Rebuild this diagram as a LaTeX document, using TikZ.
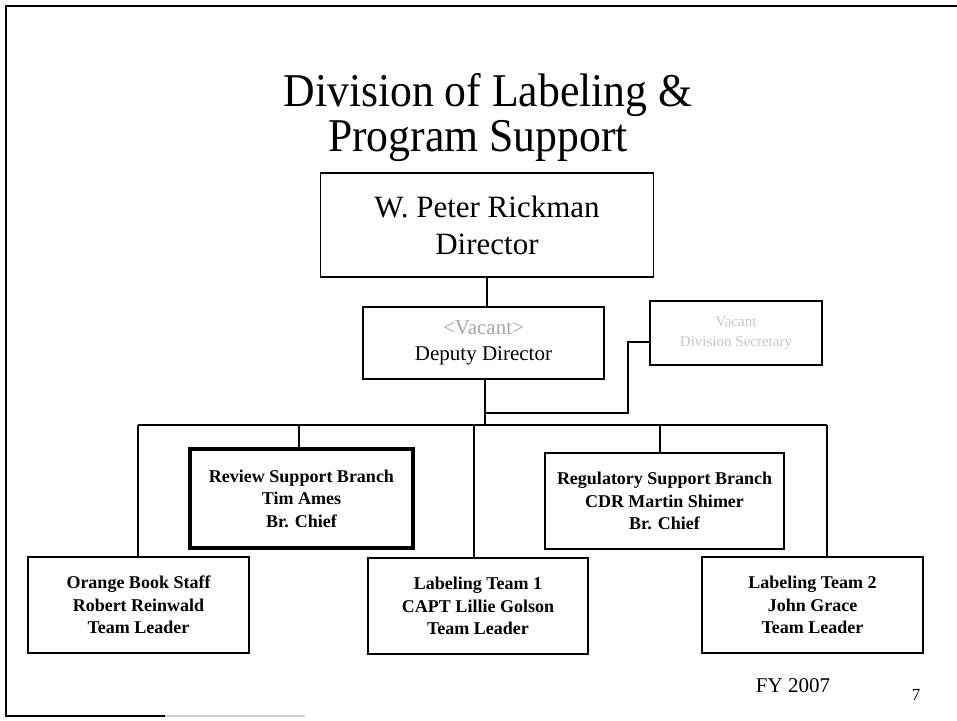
\documentclass[tikz,border=0pt]{standalone}
\usepackage{fontspec}
\setmainfont{Liberation Serif}
\newfontfamily\headingfam[FakeStretch=0.93]{Liberation Serif}
\begin{document}
\begin{tikzpicture}[x=1pt,y=-1pt,
  box/.style={draw, line width=1.6pt, inner sep=0pt, align=center},
  wire/.style={line width=1.6pt},
  titlefont/.style={font=\headingfam\fontsize{47}{50}\selectfont},
  dirfont/.style={font=\fontsize{31}{37}\selectfont},
  depfont/.style={font=\fontsize{21}{26}\selectfont},
  secfont/.style={font=\fontsize{15}{20}\selectfont, text=gray!45},
  unitfont/.style={font=\bfseries\fontsize{18}{22.5}\selectfont}]
\useasboundingbox (0,0) rectangle (957,720);

% slide frame
\draw[line width=2pt] (957,6) -- (6,6) -- (6,716) -- (165,716);
\draw[line width=2pt, gray!35] (165,716) -- (305,716);

% title
\node[titlefont, anchor=base] (t1) at (488,106) {Division of Labeling \&};
\node[titlefont, anchor=base] (t2) at (478,151) {Program Support};

% boxes
\node[box, dirfont, minimum width=333pt, minimum height=104pt] (dir) at (487,225)
  {W. Peter Rickman\\Director};
\node[box, depfont, minimum width=241pt, minimum height=72pt] (dep) at (483.5,343)
  {\textcolor{gray!70}{<Vacant>}\\Deputy Director};
\node[box, secfont, minimum width=172pt, minimum height=64pt] (sec) at (736,333)
  {Vacant\\Division Secretary};
\node[box, unitfont, line width=3.5pt, minimum width=223pt, minimum height=99pt] (rev) at (301.5,498.5)
  {Review Support Branch\\Tim Ames\\Br. Chief};
\node[box, unitfont, minimum width=239pt, minimum height=96pt] (reg) at (664.5,501)
  {Regulatory Support Branch\\CDR Martin Shimer\\Br. Chief};
\node[box, unitfont, minimum width=221pt, minimum height=96pt] (ob) at (138.5,605)
  {Orange Book Staff\\Robert Reinwald\\Team Leader};
\node[box, unitfont, minimum width=220pt, minimum height=96pt] (lt1) at (478,606)
  {Labeling Team 1\\CAPT Lillie Golson\\Team Leader};
\node[box, unitfont, minimum width=221pt, minimum height=96pt] (lt2) at (812.5,605)
  {Labeling Team 2\\John Grace\\Team Leader};

% footer
\node[anchor=base, font=\fontsize{21}{25}\selectfont] (fy) at (793,692) {FY 2007};
\node[anchor=base, font=\fontsize{17}{20}\selectfont] (pg) at (916,700) {7};

% connectors
\coordinate (hub) at (485,425);
\coordinate (busL) at (138,425);
\coordinate (busR) at (827,425);
\coordinate (dRev) at (299,425);
\coordinate (dLt1) at (474,425);
\coordinate (dReg) at (660,425);
\coordinate (secj) at (485,413);
\coordinate (secbend) at (628,413);

\draw[wire] (dir.south) -- (dir.south |- dep.north);
\draw[wire] (dep.south -| hub) -- (hub);
\draw[wire] (secj) -- (secbend) |- ([yshift=-9pt]sec.west);
\draw[wire] (busL) -- (busR);
\draw[wire] (busL) -- (busL |- ob.north);
\draw[wire] (dRev) -- (dRev |- rev.north);
\draw[wire] (dLt1) -- (dLt1 |- lt1.north);
\draw[wire] (dReg) -- (dReg |- reg.north);
\draw[wire] (busR) -- (busR |- lt2.north);
\end{tikzpicture}
\end{document}
